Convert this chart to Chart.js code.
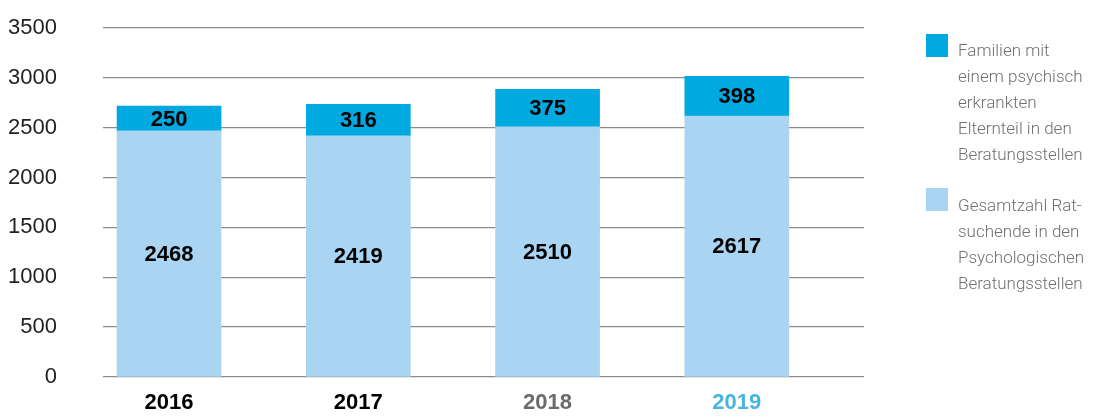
<!DOCTYPE html>
<html>
<head>
<meta charset="utf-8">
<script src="https://cdn.jsdelivr.net/npm/chart.js@4.4.1/dist/chart.umd.min.js"></script>
<style>
  body { margin: 0; background: #fff; }
  #wrap { position: relative; width: 1098px; height: 417px; }
  #myChart { position: absolute; left: 0; top: 0; }
  .leg { position: absolute; font-family: Roboto, "Liberation Sans", sans-serif; font-weight: 300;
         font-size: 17px; line-height: 26px; color: #707070; }
  .sq { position: absolute; width: 22px; height: 23px; }
</style>
</head>
<body>
<div id="wrap">
  <canvas id="myChart" width="1098" height="417"></canvas>
  <div class="sq" style="left:926px; top:34px; background:#00a9e0;"></div>
  <div class="leg" style="left:958px; top:37px;">Familien mit<br>einem psychisch<br>erkrankten<br>Elternteil in den<br>Beratungsstellen</div>
  <div class="sq" style="left:926px; top:188px; background:#a9d5f3;"></div>
  <div class="leg" style="left:958px; top:192px;">Gesamtzahl Rat-<br>suchende in den<br>Psychologischen<br>Beratungsstellen</div>
</div>
<script>
let years = [2016, 2017, 2018, 2019];
let year_colors = ['#000000', '#000000', '#6b6b6b', '#48b4df'];
let ratsuchende = [2468, 2419, 2510, 2617];
let familien = [250, 316, 375, 398];
let y_ticks = [0, 500, 1000, 1500, 2000, 2500, 3000, 3500];

// zahlen in die balken schreiben
let barLabels = {
    id: 'barLabels',
    afterDatasetsDraw(chart) {
        let ctx = chart.ctx;
        ctx.save();
        ctx.font = 'bold 22px "Liberation Sans", Arial, sans-serif';
        ctx.fillStyle = '#000';
        ctx.textAlign = 'center';
        ctx.textBaseline = 'middle';
        chart.data.datasets.forEach((ds, i) => {
            let meta = chart.getDatasetMeta(i);
            meta.data.forEach((bar, j) => {
                ctx.fillText(ds.data[j], bar.x, (bar.y + bar.base) / 2 + 1);
            });
        });
        ctx.restore();
    }
};

let chart_data = {
    labels: years,
    datasets: [{
        label: 'Gesamtzahl Ratsuchende in den Psychologischen Beratungsstellen',
        backgroundColor: '#a9d5f3',
        data: ratsuchende,
        barThickness: 104
    },
    {
        label: 'Familien mit einem psychisch erkrankten Elternteil in den Beratungsstellen',
        backgroundColor: '#00a9e0',
        data: familien,
        barThickness: 104
    }]
};

let config = {
    type: 'bar',
    data: chart_data,
    options: {
        responsive: false,
        animation: false,
        layout: { padding: { top: 28, right: 234, bottom: 0, left: 0 } },
        plugins: {
            legend: { display: false },
            tooltip: { enabled: false }
        },
        scales: {
            x: {
                type: 'linear',
                stacked: true,
                offset: false,
                min: 2015.651,
                max: 2019.672,
                afterBuildTicks: (axis) => { axis.ticks = years.map(v => ({ value: v })); },
                afterFit: (scale) => { scale.height = 40; },
                grid: { display: false },
                border: { display: false },
                ticks: {
                    padding: 5,
                    callback: (v) => String(v),
                    color: (c) => year_colors[c.index],
                    font: { family: '"Liberation Sans", Arial, sans-serif', size: 22, weight: 'bold' }
                }
            },
            y: {
                stacked: true,
                min: 0,
                max: 3500,
                afterBuildTicks: (axis) => { axis.ticks = y_ticks.map(v => ({ value: v })); },
                afterFit: (scale) => { scale.width = 103; },
                grid: { color: '#8c8c8c', lineWidth: 1.3, drawTicks: true, tickLength: 46, tickColor: 'rgba(0,0,0,0)' },
                border: { display: false },
                ticks: {
                    padding: 0,
                    callback: (v) => String(v),
                    color: '#222',
                    font: { family: '"Liberation Sans", Arial, sans-serif', size: 22 }
                }
            }
        }
    },
    plugins: [barLabels]
};

let myChart = new Chart(document.getElementById('myChart'), config);
</script>
</body>
</html>
